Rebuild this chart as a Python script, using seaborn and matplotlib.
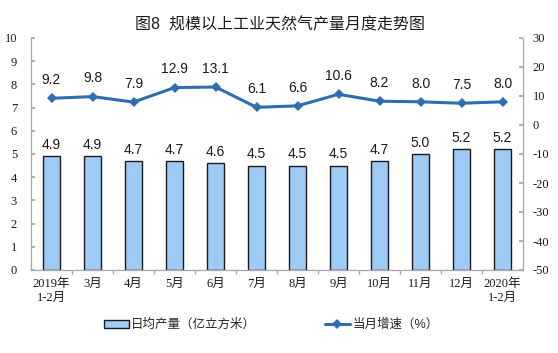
import matplotlib
matplotlib.use('Agg')
import matplotlib.pyplot as plt
import seaborn as sns
import pandas as pd

categories = ['2019年\n1-2月', '3月', '4月', '5月', '6月', '7月', '8月', '9月',
              '10月', '11月', '12月', '2020年\n1-2月']
daily_output = [4.9, 4.9, 4.7, 4.7, 4.6, 4.5, 4.5, 4.5, 4.7, 5.0, 5.2, 5.2]
growth = [9.2, 9.8, 7.9, 12.9, 13.1, 6.1, 6.6, 10.6, 8.2, 8.0, 7.5, 8.0]
left_ticks = list(range(0, 11))
right_ticks = list(range(-50, 31, 10))

df = pd.DataFrame({'cat': categories, 'out': daily_output, 'g': growth})

sns.set_theme(style='white')
plt.rcParams['font.family'] = ['Liberation Sans', 'Noto Sans CJK SC']
plt.rcParams['axes.unicode_minus'] = False

fig = plt.figure(figsize=(5.58, 3.53), dpi=100)
ax = fig.add_axes([31/558, 83/353, 492/558, 232/353])

sns.barplot(data=df, x='cat', y='out', ax=ax, color='#9DCBF5', saturation=1,
            edgecolor='#1a1a1a', linewidth=1.0, width=0.42,
            label='日均产量（亿立方米）')
ax.set_ylim(0, 10)
ax.set_xlim(-0.5, len(categories) - 0.5)
ax.set_yticks(left_ticks)
ax.set_xlabel('')
ax.set_ylabel('')
for i, v in enumerate(daily_output):
    ax.annotate(f'{v:.1f}', (i, v), xytext=(0, 3), textcoords='offset points',
                ha='center', va='bottom', fontsize=10, color='#1a1a1a')

ax2 = ax.twinx()
sns.lineplot(data=df, x='cat', y='g', ax=ax2, color='#2E6DB4', marker='D',
             markersize=5, linewidth=2.2, markeredgewidth=0, sort=False,
             label='当月增速（%）')
ax2.set_ylim(-50, 30)
ax2.set_yticks(right_ticks)
ax2.set_ylabel('')
for i, v in enumerate(growth):
    ax2.annotate(f'{v:.1f}', (i, v), xytext=(0, 8), textcoords='offset points',
                 ha='center', va='bottom', fontsize=10, color='#1a1a1a')

spine_col = '#A6A6A6'
for a in (ax, ax2):
    a.spines['top'].set_visible(False)
    for s in ('left', 'right', 'bottom'):
        a.spines[s].set_color(spine_col)
        a.spines[s].set_linewidth(0.9)
ax.spines['right'].set_visible(False)
ax2.spines['left'].set_visible(False)
ax2.spines['bottom'].set_visible(False)

serif = ['Liberation Serif', 'Noto Sans CJK SC']
ax.tick_params(axis='y', direction='in', length=3, color=spine_col, left=True,
               labelsize=9, pad=10, labelcolor='#1a1a1a')
ax2.tick_params(axis='y', direction='in', length=3, color=spine_col, right=True,
                labelsize=9, pad=7, labelcolor='#1a1a1a')
ax.set_xticks([x + 0.5 for x in range(len(categories) - 1)], minor=True)
ax.tick_params(axis='x', which='major', length=0, labelsize=9, pad=6,
               labelcolor='#1a1a1a')
ax.tick_params(axis='x', which='minor', direction='out', length=3,
               color=spine_col, bottom=True)
for lab in ax.get_yticklabels() + ax2.get_yticklabels() + ax.get_xticklabels():
    lab.set_family(serif)

if ax2.get_legend():
    ax2.get_legend().remove()
if ax.get_legend():
    ax.get_legend().remove()
h1, l1 = ax.get_legend_handles_labels()
h2, l2 = ax2.get_legend_handles_labels()
fig.legend(h1 + h2, l1 + l2, loc='center', bbox_to_anchor=(271/558, 1 - 325/353),
           ncol=2, frameon=False, fontsize=9, columnspacing=5.5,
           handlelength=2.0, handleheight=0.6, handletextpad=0.2)

fig.text(280/558, 1 - 25/353, '图8  规模以上工业天然气产量月度走势图',
         ha='center', va='center', fontsize=11.5, color='#1a1a1a')

fig.savefig('out.png', dpi=100)
